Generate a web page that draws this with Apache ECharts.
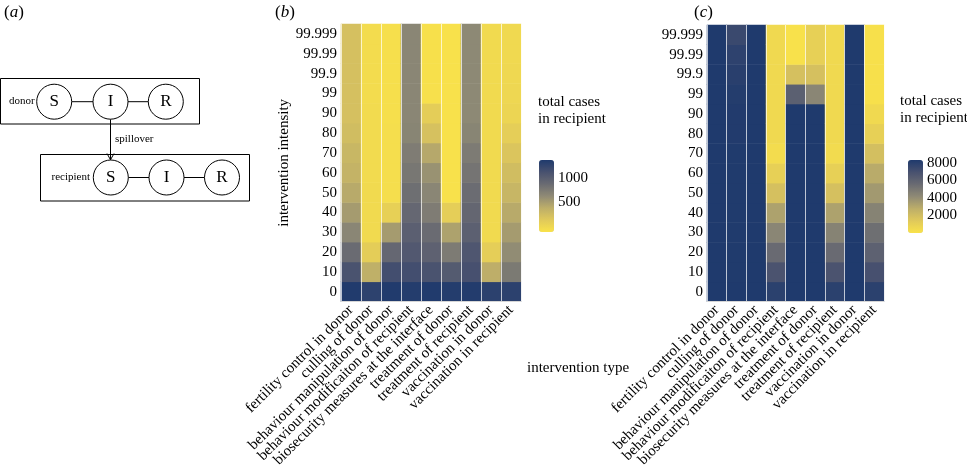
<!DOCTYPE html>
<html>
<head>
<meta charset="utf-8">
<script src="https://cdn.jsdelivr.net/npm/echarts@6/dist/echarts.min.js"></script>
<style>html,body{margin:0;padding:0;background:#fff}#c{width:967px;height:470px}</style>
</head>
<body>
<div id="c"></div>
<script>
// ---------- data ----------
const interventionTypes = [
  'fertility control in donor',
  'culling of donor',
  'behaviour manipulation of donor',
  'behaviour modificaiton of recipient',
  'biosecurity measures at the interface',
  'treatment of donor',
  'treatment of recipient',
  'vaccination in donor',
  'vaccination in recipient'
];
// intervention intensity, bottom to top
const intensities = ['0','10','20','30','40','50','60','70','80','90','99','99.9','99.99','99.999'];

// panel (b): total cases in recipient, one array per intervention type (intensity 0 -> 99.999)
const bFertilityDonor   = [1350,1120,910,710,570,480,410,380,330,300,300,300,300,300];
const bCullingDonor     = [1280,440,190,70,70,70,65,60,60,60,55,55,50,50];
const bBehaviourDonor   = [1350,1160,940,570,160,40,40,35,35,30,30,30,30,30];
const bBehaviourRecip   = [1330,1160,1070,1010,940,880,820,780,720,710,710,710,710,710];
const bBiosecurity      = [1350,1120,990,910,780,710,630,490,290,190,20,15,15,15];
const bTreatmentDonor   = [1330,1050,790,530,180,10,10,10,10,10,10,10,10,10];
const bTreatmentRecip   = [1340,1140,1090,1000,950,900,840,790,720,690,690,690,690,690];
const bVaccinationDonor = [1290,450,180,70,70,70,70,70,70,70,70,70,70,70];
const bVaccinationRecip = [1290,800,670,570,480,390,330,260,180,120,100,90,85,80];

// panel (c)
const cFertilityDonor   = [8340,8340,8340,8340,8340,8340,8340,8340,8340,8340,8340,8340,8340,8340];
const cCullingDonor     = [8340,8300,8300,8300,8300,8300,8300,8300,8250,8250,8170,8010,7840,7420];
const cBehaviourDonor   = [8340,8340,8340,8340,8340,8340,8340,8340,8340,8340,8340,8340,8340,8340];
const cBehaviourRecip   = [7920,6840,5590,4340,3250,1830,1000,350,480,480,490,500,500,500];
const cBiosecurity      = [8340,8340,8340,8340,8340,8340,8340,8340,8340,8340,6170,1830,80,80];
const cTreatmentDonor   = [8340,8340,8340,8340,8340,8340,8340,8340,8340,8340,4340,1830,1000,1000];
const cTreatmentRecip   = [7920,6840,5590,4500,3250,1830,1000,400,500,500,500,500,500,500];
const cVaccinationDonor = [8340,8340,8340,8340,8340,8340,8340,8340,8340,8340,8340,8340,8340,8340];
const cVaccinationRecip = [7920,7000,6100,5400,4500,3600,2900,1900,1000,500,100,100,100,100];

const colourbarBTicks = [500, 1000];
const colourbarCTicks = [2000, 4000, 6000, 8000];

// ---------- build ----------
const panelB = [bFertilityDonor,bCullingDonor,bBehaviourDonor,bBehaviourRecip,bBiosecurity,bTreatmentDonor,bTreatmentRecip,bVaccinationDonor,bVaccinationRecip];
const panelC = [cFertilityDonor,cCullingDonor,cBehaviourDonor,cBehaviourRecip,cBiosecurity,cTreatmentDonor,cTreatmentRecip,cVaccinationDonor,cVaccinationRecip];
function toCells(panel){
  const out=[];
  panel.forEach((col,i)=>col.forEach((v,j)=>out.push([i,j,v])));
  return out;
}
const SERIF = 'Liberation Serif, Times New Roman, serif';
const cmap = ['#f9e24a','#e0c95b','#bdae69','#8f8a75','#6a6b72','#48516f','#1f3a6d'];

function heatX(gi){
  return {
    type:'category', gridIndex:gi, data:interventionTypes, z:10,
    axisTick:{show:false},
    axisLine:{show:true, lineStyle:{color:'#d6d6d6', width:1}},
    splitLine:{show:true, interval:0, lineStyle:{color:'rgba(255,255,255,0.7)', width:1}},
    axisLabel:{rotate:45, interval:0, fontFamily:SERIF, fontSize:15, color:'#000', margin:6}
  };
}
function heatY(gi, name){
  return {
    type:'category', gridIndex:gi, data:intensities,
    axisTick:{show:false}, axisLine:{show:false}, splitLine:{show:false},
    axisLabel:{fontFamily:SERIF, fontSize:15, color:'#000', margin:4},
    name:name||'', nameLocation:'middle', nameGap:46,
    nameTextStyle:{fontFamily:SERIF, fontSize:15, color:'#000'}
  };
}
function cbY(gi,min,max,interval,ticks){
  return {
    type:'value', gridIndex:gi, position:'right', min:min, max:max, interval:interval,
    axisTick:{show:false}, axisLine:{show:false}, splitLine:{show:false},
    axisLabel:{showMinLabel:true, showMaxLabel:true, fontFamily:SERIF, fontSize:15, color:'#000', margin:4,
      formatter:v=>ticks.indexOf(v)>=0?String(v):''}
  };
}
function txt(x,y,t,size,align,extra){
  return Object.assign({type:'text', x:x, y:y, silent:true,
    style:{text:t, font:size+'px '+SERIF, fill:'#000', textAlign:align||'left', textVerticalAlign:'middle'}}, extra||{});
}
function panelLabel(x,y,letter){
  return {type:'text', x:x, y:y, silent:true, style:{
    text:'{n|(}{i|'+letter+'}{n|)}', textVerticalAlign:'middle',
    rich:{n:{fontFamily:SERIF,fontSize:17,fill:'#000'}, i:{fontFamily:SERIF,fontSize:17,fontStyle:'italic',fill:'#000'}}}};
}
function circ(cx,cy){return {type:'circle', shape:{cx:cx,cy:cy,r:17.5}, style:{fill:'#fff',stroke:'#000',lineWidth:1}, silent:true};}
function ln(x1,y1,x2,y2){return {type:'line', shape:{x1:x1,y1:y1,x2:x2,y2:y2}, style:{stroke:'#000',lineWidth:1}, silent:true};}

const graphics = [
  panelLabel(4,12.5,'a'), panelLabel(275,12.5,'b'), panelLabel(694,12.5,'c'),
  // schematic (a)
  {type:'rect', shape:{x:0.5,y:78.5,width:199,height:45.5}, style:{fill:'none',stroke:'#000',lineWidth:1}, silent:true},
  {type:'rect', shape:{x:40.5,y:154.5,width:209,height:46.5}, style:{fill:'none',stroke:'#000',lineWidth:1}, silent:true},
  ln(71.7,101.7,93,101.7), ln(128,101.7,148.3,101.7),
  ln(128.3,177.5,149,177.5), ln(184,177.5,204.5,177.5),
  ln(110.5,119.2,110.5,159.5),
  {type:'polyline', shape:{points:[[107,153.5],[110.5,159.8],[114,153.5]]}, style:{fill:'none',stroke:'#000',lineWidth:1}, silent:true},
  circ(54.2,101.7), circ(110.5,101.7), circ(165.8,101.7),
  circ(110.8,177.5), circ(166.5,177.5), circ(222,177.5),
  txt(54.2,102,'S',17,'center'), txt(110.5,102,'I',17,'center'), txt(165.8,102,'R',17,'center'),
  txt(110.8,178,'S',17,'center'), txt(166.5,178,'I',17,'center'), txt(222,178,'R',17,'center'),
  txt(9,101.5,'donor',11,'left'), txt(51.5,177.5,'recipient',11,'left'), txt(115,139,'spillover',11,'left'),
  // legend titles and axis title
  txt(538,102,'total cases',15,'left'), txt(538,119,'in recipient',15,'left'),
  txt(900,101,'total cases',15,'left'), txt(900,118,'in recipient',15,'left'),
  txt(527,368,'intervention type',15,'left')
];

const option = {
  backgroundColor:'#fff',
  animation:false,
  grid:[
    {left:341, top:24, width:180, height:280},
    {left:707, top:25, width:177, height:279},
    {left:539, top:160, width:15, height:72},
    {left:908, top:160, width:15, height:73}
  ],
  xAxis:[
    heatX(0), heatX(1),
    {type:'value', gridIndex:2, show:false},
    {type:'value', gridIndex:3, show:false}
  ],
  yAxis:[
    heatY(0,'intervention intensity'), heatY(1,''),
    cbY(2,-100,1360,100,colourbarBTicks),
    cbY(3,0,8340,2000,colourbarCTicks)
  ],
  visualMap:[
    {type:'continuous', seriesIndex:0, min:0, max:1360, left:539, top:160, itemWidth:15, itemHeight:72,
     padding:0, calculable:false, hoverLink:false, text:null, inRange:{color:cmap}},
    {type:'continuous', seriesIndex:1, min:0, max:8340, left:908, top:160, itemWidth:15, itemHeight:73,
     padding:0, calculable:false, hoverLink:false, text:null, inRange:{color:cmap}}
  ],
  series:[
    {type:'heatmap', xAxisIndex:0, yAxisIndex:0, data:toCells(panelB), itemStyle:{borderWidth:0}, emphasis:{disabled:true}},
    {type:'heatmap', xAxisIndex:1, yAxisIndex:1, data:toCells(panelC), itemStyle:{borderWidth:0}, emphasis:{disabled:true}}
  ],
  graphic:graphics
};
const chart = echarts.init(document.getElementById('c'), null, {renderer:'canvas'});
chart.setOption(option);
</script>
</body>
</html>
